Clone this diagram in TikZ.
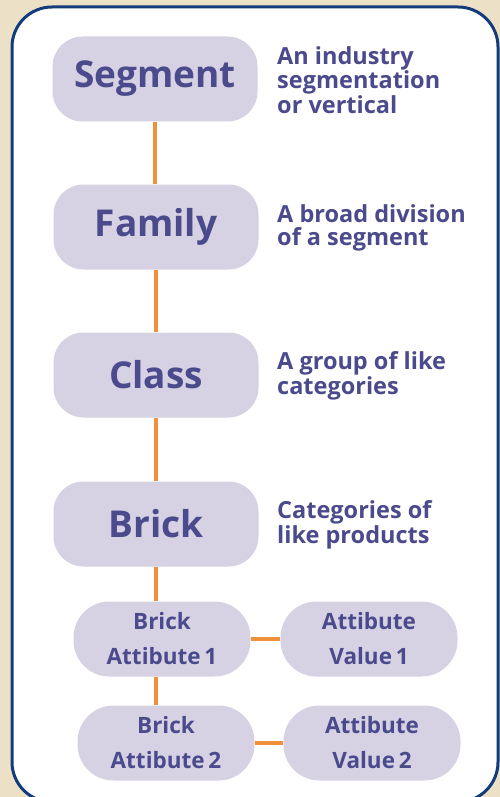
\documentclass[tikz,border=0pt]{standalone}
\usepackage{fontspec}
\setmainfont{Open Sans}
\definecolor{beige}{HTML}{ECE0C6}
\definecolor{frameblue}{HTML}{123C7C}
\definecolor{boxfill}{HTML}{D6D2E3}
\definecolor{txt}{HTML}{4A4A8C}
\definecolor{conn}{HTML}{F0903A}
\begin{document}
\begin{tikzpicture}[x=1pt,y=-1pt,
  mainbox/.style={fill=boxfill, rounded corners=30pt, minimum width=205pt, minimum height=85pt, inner sep=0pt,
    text=txt, font=\fontsize{37}{40}\selectfont\bfseries},
  subbox/.style={fill=boxfill, rounded corners=36pt, minimum width=177pt, minimum height=75pt, inner sep=0pt,
    text=txt, align=center, font=\fontsize{22.5}{35}\selectfont\bfseries},
  desc/.style={anchor=west, align=left, inner sep=0pt, text=txt, font=\fontsize{23.5}{23}\selectfont\bfseries},
  link/.style={draw=conn, line width=3.5pt}]
\useasboundingbox (0,0) rectangle (500,797);
\fill[beige] (0,0) rectangle (500,797);
\draw[frameblue, line width=3pt, fill=white, rounded corners=40pt] (12,7) rectangle (498,802);

\node[mainbox] (seg) at (155,79) {Segment};
\node[mainbox] (fam) at (156,227) {Family};
\node[mainbox] (cls) at (156,375) {Class};
\node[mainbox] (brk) at (156,524) {Brick};
\node[subbox] (ba1) at (162,639) {Brick\\Attibute\,1};
\node[subbox] (av1) at (369,639) {Attibute\\Value\,1};
\node[subbox] (ba2) at (166,743) {Brick\\Attibute\,2};
\node[subbox] (av2) at (372,743) {Attibute\\Value\,2};

\node[desc] (d1) at (277,80) {An industry\\segmentation\\or vertical};
\node[desc] (d2) at (277,228) {A broad division\\of a segment};
\node[desc] (d3) at (277,376) {A group of like\\categories};
\node[desc] (d4) at (277,525) {Categories of\\like products};

\path[link] (seg.south) -- (seg.south |- fam.north);
\path[link] (fam.south) -- (fam.south |- cls.north);
\path[link] (cls.south) -- (cls.south |- brk.north);
\path[link] (brk.south) -- (brk.south |- ba1.north);
\path[link] (ba1.south -| brk.south) -- (ba2.north -| brk.south);
\path[link] (ba1.east) -- (av1.west);
\path[link] (ba2.east) -- (av2.west);
\end{tikzpicture}
\end{document}
